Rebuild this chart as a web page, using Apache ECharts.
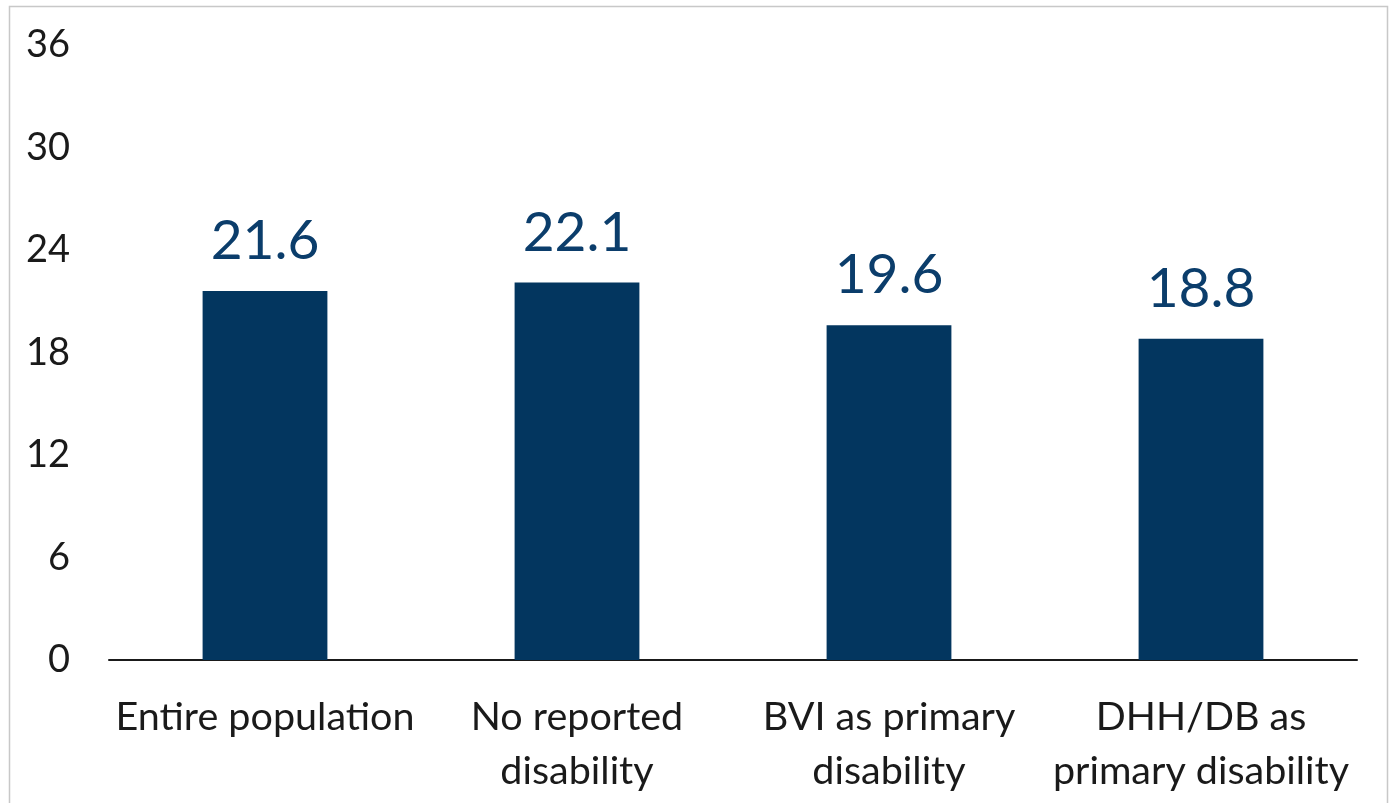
<!DOCTYPE html>
<html>
<head>
<meta charset="utf-8">
<script src="https://cdn.jsdelivr.net/npm/echarts@6/dist/echarts.min.js"></script>
<style>
  html, body { margin: 0; padding: 0; background: #fff; }
  #chart { width: 1393px; height: 803px; }
</style>
</head>
<body>
<div id="chart"></div>
<script>
const categories = ['Entire population', 'No reported\ndisability', 'BVI as primary\ndisability', 'DHH/DB as\nprimary disability'];
const values = [21.6, 22.1, 19.6, 18.8];
const yTicks = [0, 6, 12, 18, 24, 30, 36];

const FONT = 'Lato, "Open Sans", sans-serif';
const chart = echarts.init(document.getElementById('chart'));
chart.setOption({
  backgroundColor: '#fff',
  animation: false,
  graphic: [{
    type: 'rect',
    shape: { x: 9.5, y: 6.5, width: 1378, height: 820 },
    style: { fill: 'none', stroke: '#c8c8c8', lineWidth: 1.5 },
    silent: true
  }],
  grid: { left: 109, right: 36, top: 45, bottom: 143 },
  xAxis: {
    type: 'category',
    data: categories,
    axisLine: { show: true, lineStyle: { color: '#1a1a1a', width: 2 } },
    axisTick: { show: false },
    axisLabel: {
      color: '#1a1a1a', fontFamily: FONT, fontSize: 39.5, lineHeight: 54,
      margin: 30, interval: 0
    }
  },
  yAxis: {
    type: 'value',
    min: yTicks[0], max: yTicks[yTicks.length - 1], interval: 6,
    axisLine: { show: false },
    axisTick: { show: false },
    splitLine: { show: false },
    axisLabel: { color: '#1a1a1a', fontFamily: FONT, fontSize: 38, margin: 39 }
  },
  series: [{
    type: 'bar',
    data: values,
    barWidth: '40%',
    itemStyle: { color: '#03365f' },
    label: {
      show: true, position: 'top', distance: 22,
      color: '#0b3d6b', fontFamily: FONT, fontSize: 55,
      formatter: p => p.value.toFixed(1)
    }
  }]
});
</script>
</body>
</html>
